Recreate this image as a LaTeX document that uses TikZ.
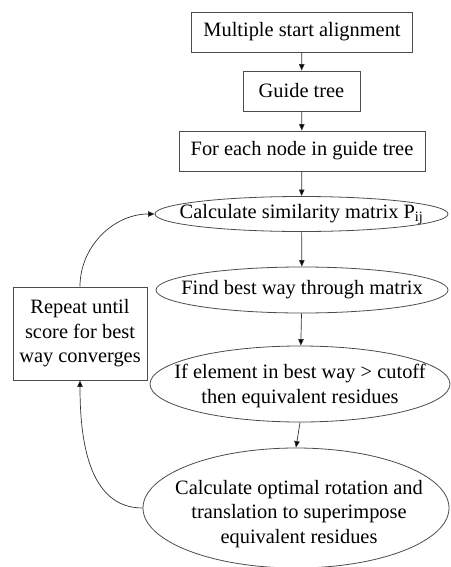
\documentclass[tikz,border=0pt]{standalone}
\usepackage{fontspec}
\setmainfont{Liberation Serif}
\usetikzlibrary{shapes.geometric,arrows.meta}

\begin{document}
\begin{tikzpicture}[x=1pt,y=1pt,
    box/.style={draw=black!70,line width=0.8pt,inner sep=0pt,align=center,
        font=\fontsize{20.4}{24.5}\selectfont},
    oval/.style={ellipse,draw=black!70,line width=0.8pt,inner sep=0pt},
    txt/.style={inner sep=0pt,align=center,font=\fontsize{20.4}{24.5}\selectfont},
    flow/.style={-{Triangle[length=6.5pt,width=5.5pt,fill=black]},draw=black!80,line width=0.7pt}]

    \useasboundingbox (0,0) rectangle (450,-567);

    % 1. top boxes
    \node[box,minimum width=221pt,minimum height=40pt] (start) at (302,-32) {Multiple start alignment};
    \node[box,minimum width=117pt,minimum height=40pt] (guide) at (301.5,-91) {Guide tree};
    \node[box,minimum width=246pt,minimum height=40pt] (each) at (302,-151) {For each node in guide tree};

    % 2. loop ellipses
    \node[oval,minimum width=293pt,minimum height=35pt] (simil) at (301.5,-214) {};
    \node[txt] (simil-t) at (simil.center) {Calculate similarity matrix P\textsubscript{ij}};

    \node[oval,minimum width=292pt,minimum height=46pt] (best) at (302,-290) {};
    \node[txt] (best-t) at (best.center) {Find best way through matrix};

    \node[oval,minimum width=300pt,minimum height=76pt] (equiv) at (300,-384) {};
    \node[txt] (equiv-t) at (300,-386) {If element in best way > cutoff\\then equivalent residues};

    \node[oval,minimum width=306pt,minimum height=120pt] (rot) at (296,-508) {};
    \node[txt] (rot-t) at (299,-514) {Calculate optimal rotation and\\translation to superimpose\\equivalent residues};

    % 3. repeat box on the left
    \node[box,minimum width=134pt,minimum height=93pt] (repeat) at (80,-333.5) {Repeat until\\score for best\\way converges};

    % 4. arrows
    \draw[flow] (start) -- (guide);
    \draw[flow] (guide) -- (each);
    \draw[flow] (each) -- (simil);
    \draw[flow] (simil) -- (best);
    \draw[flow] (best) -- (equiv);
    \draw[flow] (equiv.south) -- (rot.north);

    % loop back
    \draw[flow] (repeat.north) to[out=90,in=180] (simil.west);
    \draw[flow] (rot.west) to[out=180,in=-90] (repeat.south);

\end{tikzpicture}
\end{document}
